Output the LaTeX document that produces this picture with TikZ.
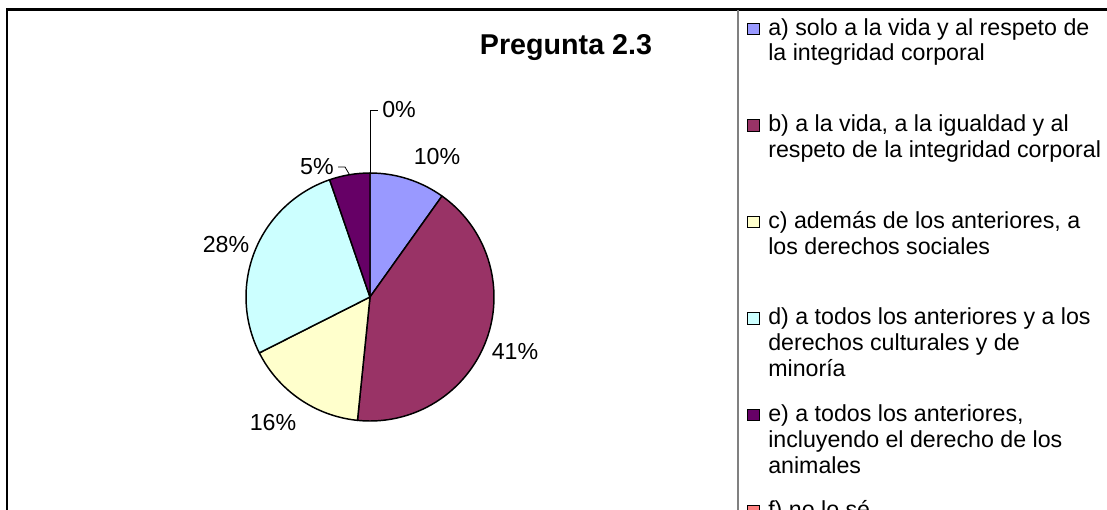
\documentclass[tikz,border=0pt]{standalone}
\usepackage{fontspec}
\setmainfont{Liberation Sans}
\definecolor{ca}{HTML}{9999FF}
\definecolor{cb}{HTML}{993366}
\definecolor{cc}{HTML}{FFFFCC}
\definecolor{cd}{HTML}{CCFFFF}
\definecolor{ce}{HTML}{660066}
\definecolor{cf}{HTML}{FF8080}
\tikzset{
  slice/.style={draw=black, line width=1.1pt, line join=round},
  pct/.style={font=\fontsize{17.4pt}{19.5pt}\selectfont, inner sep=3pt},
  legtext/.style={font=\fontsize{17.4pt}{19.5pt}\selectfont, align=left, inner sep=0pt, anchor=base west},
  legsq/.style={draw=black, line width=0.8pt, minimum size=8.8pt, inner sep=0pt},
  leader/.style={draw=black, line width=0.6pt}
}
\begin{document}
\begin{tikzpicture}[x=0.75pt, y=-0.75pt]
\useasboundingbox (0,0) rectangle (1107,510);
\clip (0,0) rectangle (1107,510);
\fill[white] (0,0) rectangle (1107,510);
% frame
\draw[line width=1.6pt] (7,512) -- (7,9.5) -- (1110,9.5);
\draw[gray, line width=1.1pt] (738,10.5) -- (738,512);
% title
\node[font=\fontsize{21.5pt}{24pt}\selectfont\bfseries] (title) at (566,48) {Pregunta 2.3};
% pie
\begin{scope}[shift={(370,297)}, x=0.75pt, y=0.75pt]
  \filldraw[slice, fill=ca] (0,0) -- (90:124) arc[start angle=90, end angle=54.5, radius=124] -- cycle;
  \filldraw[slice, fill=cb] (0,0) -- (54.5:124) arc[start angle=54.5, end angle=-95.8, radius=124] -- cycle;
  \filldraw[slice, fill=cc] (0,0) -- (-95.8:124) arc[start angle=-95.8, end angle=-153.2, radius=124] -- cycle;
  \filldraw[slice, fill=cd] (0,0) -- (-153.2:124) arc[start angle=-153.2, end angle=-251, radius=124] -- cycle;
  \filldraw[slice, fill=ce] (0,0) -- (-251:124) arc[start angle=-251, end angle=-270, radius=124] -- cycle;
  \coordinate (ptop) at (90:124);
  \coordinate (e5) at (99.5:124);
\end{scope}
% percentage labels
\node[pct, anchor=west] (p0) at (378,110) {0\%};
\node[pct] (p10) at (437,157) {10\%};
\node[pct] (p41) at (515,352) {41\%};
\node[pct] (p16) at (273,423) {16\%};
\node[pct] (p28) at (226,245) {28\%};
\node[pct] (p5) at (317,167) {5\%};
\coordinate (b5) at (345,167);
\draw[leader] (ptop) |- (p0.west);
\draw[leader] (p5.east) -- (b5) -- (e5);
% legend (anchor = baseline of the last line)
\node[legsq, fill=ca] (sa) at (753.5,29) {};
\node[legtext] (la) at (768,61) {a) solo a la vida y al respeto de\\la integridad corporal};
\node[legsq, fill=cb] (sb) at (753.5,125.5) {};
\node[legtext] (lb) at (768,157.5) {b) a la vida, a la igualdad y al\\respeto de la integridad corporal};
\node[legsq, fill=cc] (sc) at (753.5,222) {};
\node[legtext] (lc) at (768,254) {c) además de los anteriores, a\\los derechos sociales};
\node[legsq, fill=cd] (sd) at (753.5,318.5) {};
\node[legtext] (ld) at (768,376.5) {d) a todos los anteriores y a los\\derechos culturales y de\\minoría};
\node[legsq, fill=ce] (se) at (753.5,415) {};
\node[legtext] (le) at (768,473) {e) a todos los anteriores,\\incluyendo el derecho de los\\animales};
\node[legsq, fill=cf] (sf) at (753.5,511.5) {};
\node[legtext] (lf) at (768,517.5) {f) no lo sé};
\end{tikzpicture}
\end{document}
